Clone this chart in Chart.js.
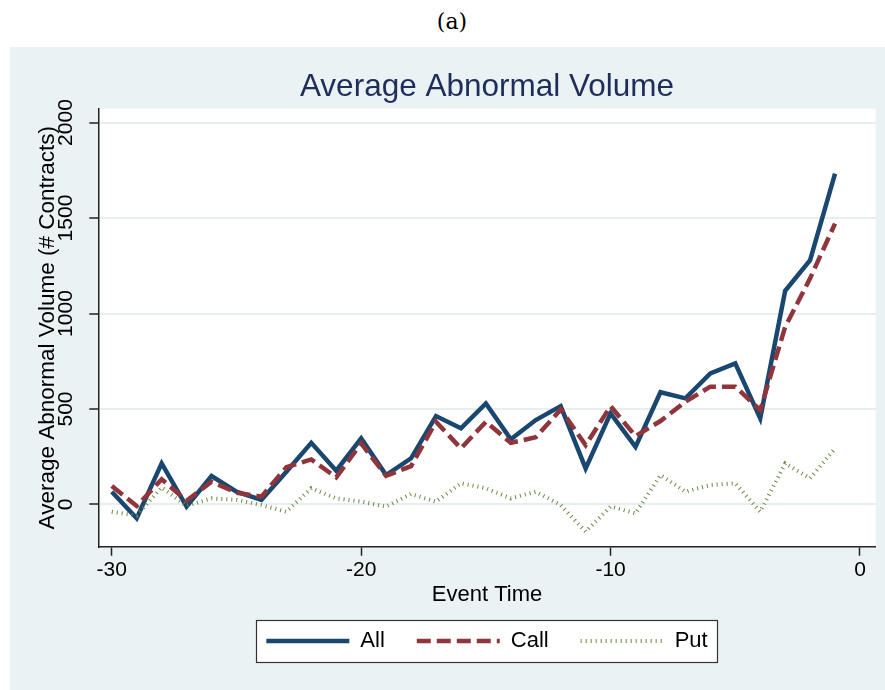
<!DOCTYPE html>
<html>
<head>
<meta charset="utf-8">
<title>Average Abnormal Volume</title>
<script src="https://cdn.jsdelivr.net/npm/chart.js@4.4.1/dist/chart.umd.min.js"></script>
<style>
  html, body { margin: 0; padding: 0; background: #fff; width: 885px; height: 690px; overflow: hidden; }
  #caption { position: absolute; left: 19px; top: 8px; width: 866px; text-align: center;
             font-family: "DejaVu Serif", "Liberation Serif", serif; font-size: 22px; line-height: 28px; color: #000; }
  #panel { position: absolute; left: 10px; top: 47px; width: 875px; height: 643px; background: #eaf2f3; }
  canvas { display: block; }
</style>
</head>
<body>
<div id="caption">(a)</div>
<div id="panel"><canvas id="chart" width="875" height="643"></canvas></div>
<script>
// Event days before the announcement
const eventTime = [-30, -29, -28, -27, -26, -25, -24, -23, -22, -21,
                   -20, -19, -18, -17, -16, -15, -14, -13, -12, -11,
                   -10, -9, -8, -7, -6, -5, -4, -3, -2, -1];

// Average abnormal volume (# contracts)
const allVolume  = [67, -72, 215, -11, 149, 67, 24, 172, 323, 177,
                    346, 154, 242, 463, 399, 529, 341, 442, 515, 189,
                    477, 302, 588, 556, 687, 739, 451, 1119, 1279, 1733];
const callVolume = [97, -8, 132, 20, 119, 62, 41, 195, 236, 142,
                    320, 150, 201, 433, 294, 433, 323, 352, 498, 311,
                    515, 358, 437, 538, 617, 617, 494, 930, 1184, 1471];
const putVolume  = [-38, -58, 90, -8, 32, 24, -3, -38, 85, 32,
                    15, -11, 55, 15, 111, 85, 32, 67, -3, -142,
                    -11, -46, 154, 67, 102, 111, -38, 215, 137, 294];

const seriesNames = ['All', 'Call', 'Put'];
const xTickValues = [-30, -20, -10, 0];
const yTickValues = [0, 500, 1000, 1500, 2000];

const FONT = '"Liberation Sans", Arial, Helvetica, sans-serif';
const AXIS_INK = '#222';

const toPoints = (values) => eventTime.map((t, i) => ({ x: t, y: values[i] }));

// White plot region and framed legend box
const framePlugin = {
  id: 'frames',
  legendRect(chart) {
    const boxes = chart.legend && chart.legend.legendHitBoxes;
    if (!boxes || !boxes.length) return null;
    const left = Math.min(...boxes.map(b => b.left)) - 10;
    const right = Math.max(...boxes.map(b => b.left + b.width)) + 10;
    const cy = boxes[0].top + boxes[0].height / 2;
    return { x: left, y: cy - 21, w: right - left, h: 42 };
  },
  beforeDraw(chart) {
    const { ctx, chartArea: a } = chart;
    ctx.save();
    ctx.fillStyle = '#fff';
    ctx.fillRect(a.left, a.top, a.right - a.left, a.bottom - a.top);
    const r = this.legendRect(chart);
    if (r) ctx.fillRect(r.x, r.y, r.w, r.h);
    ctx.restore();
  },
  afterDraw(chart) {
    const r = this.legendRect(chart);
    if (!r) return;
    const ctx = chart.ctx;
    ctx.save();
    ctx.strokeStyle = '#333';
    ctx.lineWidth = 1.2;
    ctx.strokeRect(Math.round(r.x) + 0.5, Math.round(r.y) + 0.5, Math.round(r.w), Math.round(r.h));
    ctx.restore();
  }
};

// Legend samples use each series' own line width and dash pattern
const legendLabels = (chart) =>
  Chart.defaults.plugins.legend.labels.generateLabels(chart).map((item) => {
    const ds = chart.data.datasets[item.datasetIndex];
    return { ...item, strokeStyle: ds.borderColor, lineWidth: ds.borderWidth,
             lineDash: ds.borderDash || [], lineCap: 'butt' };
  });

new Chart(document.getElementById('chart'), {
  type: 'line',
  data: {
    datasets: [
      { label: seriesNames[0], data: toPoints(allVolume), borderColor: '#1a476f', backgroundColor: '#1a476f',
        borderWidth: 4.5, borderJoinStyle: 'miter', borderCapStyle: 'butt', pointRadius: 0, tension: 0,
        pointStyle: 'line', order: 3 },
      { label: seriesNames[1], data: toPoints(callVolume), borderColor: '#90353b', backgroundColor: '#90353b',
        borderWidth: 4.5, borderDash: [14, 6], borderJoinStyle: 'miter', borderCapStyle: 'butt', pointRadius: 0,
        tension: 0, pointStyle: 'line', order: 2 },
      { label: seriesNames[2], data: toPoints(putVolume), borderColor: '#6a8a44', backgroundColor: '#6a8a44',
        borderWidth: 4, borderDash: [1, 4], borderCapStyle: 'butt', pointRadius: 0, tension: 0,
        pointStyle: 'line', order: 1 }
    ]
  },
  options: {
    responsive: false,
    animation: false,
    devicePixelRatio: 1,
    layout: { padding: { top: 0, left: 10, right: 9.3, bottom: 28 } },
    plugins: {
      title: {
        display: true, fullSize: false, text: 'Average Abnormal Volume', color: '#1e2d5a',
        font: { family: FONT, size: 31.5, weight: 'normal' },
        padding: { top: 21, bottom: 2.8 }
      },
      legend: {
        position: 'bottom', fullSize: false,
        labels: {
          usePointStyle: true, pointStyleWidth: 83, boxHeight: 22, padding: 32, color: '#000',
          font: { family: FONT, size: 22 },
          generateLabels: legendLabels,
          sort: (a, b) => a.datasetIndex - b.datasetIndex
        }
      },
      tooltip: { enabled: false }
    },
    scales: {
      x: {
        type: 'linear', min: -30.54, max: 0.63,
        afterBuildTicks: (s) => { s.ticks = xTickValues.map(v => ({ value: v })); },
        afterFit: (s) => { s.height = 51.3; },
        grid: { drawOnChartArea: false, drawTicks: true, tickLength: 9, tickColor: AXIS_INK, tickWidth: 1.5 },
        border: { display: true, color: AXIS_INK, width: 1.5 },
        ticks: { color: '#000', font: { family: FONT, size: 21 }, padding: 2, maxRotation: 0, autoSkip: false,
                 callback: (v) => String(v) },
        title: { display: true, text: 'Event Time', color: '#000', font: { family: FONT, size: 22 },
                 padding: { top: 0, bottom: -10.2 } }
      },
      y: {
        type: 'linear', min: -221, max: 2073,
        afterBuildTicks: (s) => { s.ticks = yTickValues.map(v => ({ value: v })); },
        afterFit: (s) => { s.width = 78.3; },
        grid: { color: '#e6eef0', lineWidth: 2, drawTicks: true, tickLength: 9, tickColor: AXIS_INK, tickWidth: 1.5 },
        border: { display: true, color: AXIS_INK, width: 1.5 },
        ticks: { color: '#000', font: { family: FONT, size: 21 }, padding: 0, minRotation: 90, maxRotation: 90,
                 crossAlign: 'center', autoSkip: false, callback: (v) => String(v) },
        title: { display: true, text: 'Average Abnormal Volume (# Contracts)', color: '#000',
                 font: { family: FONT, size: 22.5 }, padding: { top: 14.5, bottom: 0 } }
      }
    }
  },
  plugins: [framePlugin]
});
</script>
</body>
</html>
